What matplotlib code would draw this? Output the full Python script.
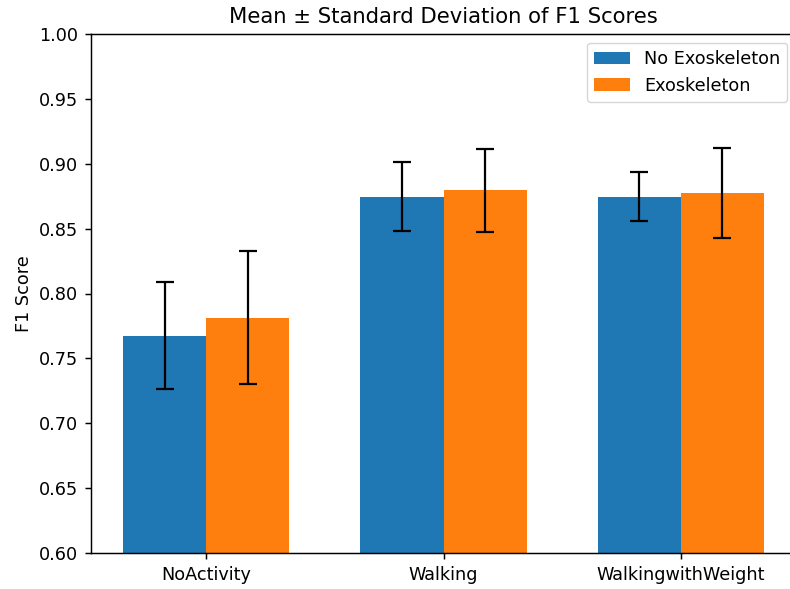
import numpy as np
import matplotlib.pyplot as plt

# F1 score summary per activity, with and without the exoskeleton
activities = ["NoActivity", "Walking", "WalkingwithWeight"]
mean_no_exo = [0.7675, 0.8746, 0.8746]
std_no_exo = [0.0410, 0.0266, 0.0188]
mean_exo = [0.7814, 0.8795, 0.8777]
std_exo = [0.0514, 0.0320, 0.0348]

s = 1.32  # scale factor for lines
fs = 12.7  # base font size
plt.rcParams.update({
    "font.size": fs,
    "axes.linewidth": 0.8 * s,
    "xtick.major.size": 3.5 * s,
    "ytick.major.size": 3.5 * s,
    "xtick.major.width": 0.8 * s,
    "ytick.major.width": 0.8 * s,
    "xtick.major.pad": 3.5 * s,
    "ytick.major.pad": 3.5 * s,
})

fig = plt.figure(figsize=(7.9, 5.89), dpi=100)
ax = fig.add_axes([91 / 790, 36 / 589, 705 / 790, 519 / 589])

x = np.arange(len(activities))
width = 0.35
err_kw = dict(elinewidth=1.6, capthick=1.6)
ax.bar(x - width / 2, mean_no_exo, width, yerr=std_no_exo, capsize=5 * s,
       color="#1f77b4", label="No Exoskeleton", error_kw=err_kw)
ax.bar(x + width / 2, mean_exo, width, yerr=std_exo, capsize=5 * s,
       color="#ff7f0e", label="Exoskeleton", error_kw=err_kw)

ax.set_ylim(0.6, 1.0)
ax.set_xticks(x)
ax.set_xticklabels(activities)
ax.set_ylabel("F1 Score")
ax.set_title("Mean \u00b1 Standard Deviation of F1 Scores", fontsize=fs * 1.2, pad=6 * s)
ax.legend(loc="upper right")

fig.savefig("out.png", dpi=100)
